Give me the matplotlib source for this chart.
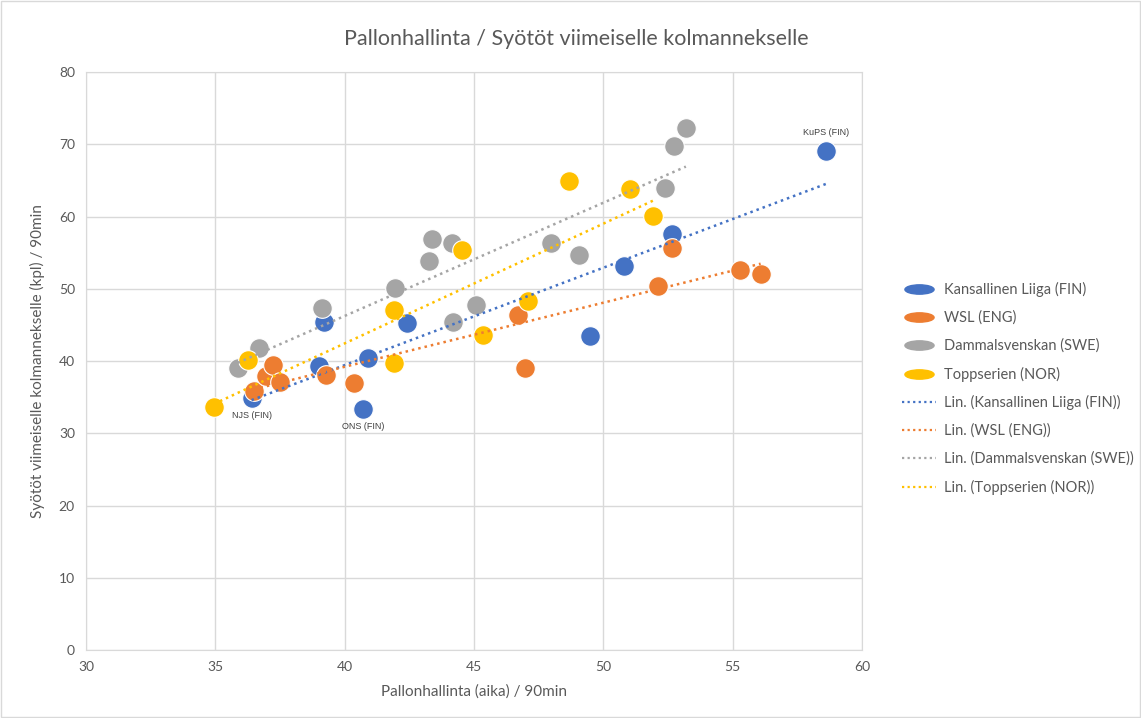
import numpy as np
import matplotlib
matplotlib.use('Agg')
import matplotlib.pyplot as plt
from matplotlib.lines import Line2D
from matplotlib.path import Path
from matplotlib.transforms import Affine2D
from matplotlib.patches import Rectangle

plt.rcParams['font.family'] = ['Lato', 'DejaVu Sans']

# data
fin_x = [36.4, 39.0, 39.2, 40.9, 40.7, 42.4, 49.5, 50.8, 52.65, 58.6]
fin_y = [34.9, 39.35, 45.35, 40.45, 33.4, 45.2, 43.5, 53.1, 57.6, 69.1]

eng_x = [36.5, 36.96, 37.22, 37.5, 39.28, 40.37, 46.71, 46.97, 52.12, 52.65, 55.28, 56.08]
eng_y = [35.9, 37.9, 39.5, 37.1, 38.0, 36.9, 46.3, 39.1, 50.45, 55.7, 52.65, 52.04]

swe_x = [35.86, 36.69, 39.13, 41.94, 43.27, 43.38, 44.16, 44.2, 45.08, 47.97, 49.06, 52.39, 52.74, 53.19]
swe_y = [39.1, 41.8, 47.4, 50.06, 53.9, 56.9, 56.3, 45.35, 47.8, 56.3, 54.7, 63.95, 69.7, 72.3]

nor_x = [34.95, 36.25, 41.92, 41.92, 44.53, 45.33, 47.07, 48.68, 51.03, 51.93]
nor_y = [33.7, 40.1, 47.06, 39.7, 55.4, 43.6, 48.3, 64.9, 63.8, 60.1]

names = ['Kansallinen Liiga (FIN)', 'WSL (ENG)', 'Dammalsvenskan (SWE)', 'Toppserien (NOR)']
colors = ['#4472C4', '#ED7D31', '#A5A5A5', '#FFC000']

# labelled points: (name, x, y, position)
labels = [('NJS (FIN)', 36.4, 34.9, 'below'),
          ('ONS (FIN)', 40.7, 33.4, 'below'),
          ('KuPS (FIN)', 58.6, 69.1, 'above')]

fig = plt.figure(figsize=(11.41, 7.18), dpi=100)
ax = fig.add_axes([0.0754, 0.0947, 0.6801, 0.805])

series = [(fin_x, fin_y), (eng_x, eng_y), (swe_x, swe_y), (nor_x, nor_y)]
for (xs, ys), c in zip(series, colors):
    ax.scatter(xs, ys, s=200, color=c, edgecolors='white', linewidths=0.8, zorder=3)

for (xs, ys), c in zip(series, colors):
    xs = np.array(xs)
    k, b = np.polyfit(xs, ys, 1)
    xx = np.array([xs.min(), xs.max()])
    ax.plot(xx, k * xx + b, color=c, linestyle=(0, (1, 1.6)), linewidth=1.8, zorder=4)

for txt, x, y, pos in labels:
    off = (0, -13) if pos == 'below' else (0, 13)
    ax.annotate(txt, (x, y), xytext=off, textcoords='offset points',
                ha='center', va='center', fontsize=6.5, color='#404040',
                family=['Liberation Sans', 'DejaVu Sans'])

ax.set_xlim(30, 60)
ax.set_ylim(0, 80)
ax.set_xticks(range(30, 61, 5))
ax.set_yticks(range(0, 81, 10))
ax.grid(True, color='#D9D9D9', linewidth=1)
ax.set_axisbelow(True)
for sp in ax.spines.values():
    sp.set_color('#D9D9D9')
ax.tick_params(length=0, labelsize=10, colors='#595959', pad=8)

ax.set_xlabel('Pallonhallinta (aika) / 90min', fontsize=11, color='#595959', labelpad=8)
ax.set_ylabel('Syötöt viimeiselle kolmannekselle (kpl) / 90min', fontsize=11,
              color='#595959', labelpad=10)
fig.text(0.505, 0.945, 'Pallonhallinta / Syötöt viimeiselle kolmannekselle',
         ha='center', va='center', fontsize=15.5, color='#595959')

# legend
ell = Path.unit_circle().transformed(Affine2D().scale(1, 0.32))
handles = []
for c in colors:
    handles.append(Line2D([], [], linestyle='none', marker=ell, markersize=21,
                          color=c, markeredgecolor=c))
for c in colors:
    handles.append(Line2D([], [], color=c, linestyle=(0, (1, 1.5)), linewidth=1.6))
leg_labels = names + ['Lin. (' + n + ')' for n in names]
fig.legend(handles, leg_labels, loc='center left', bbox_to_anchor=(0.779, 0.459),
           frameon=False, fontsize=10.5, labelcolor='#595959', handlelength=2.3,
           labelspacing=0.93, handletextpad=0.6)

fig.patches.append(Rectangle((0.001, 0.001), 0.998, 0.998, transform=fig.transFigure,
                             fill=False, edgecolor='#D9D9D9', linewidth=1))

fig.savefig('out.png', dpi=100)
